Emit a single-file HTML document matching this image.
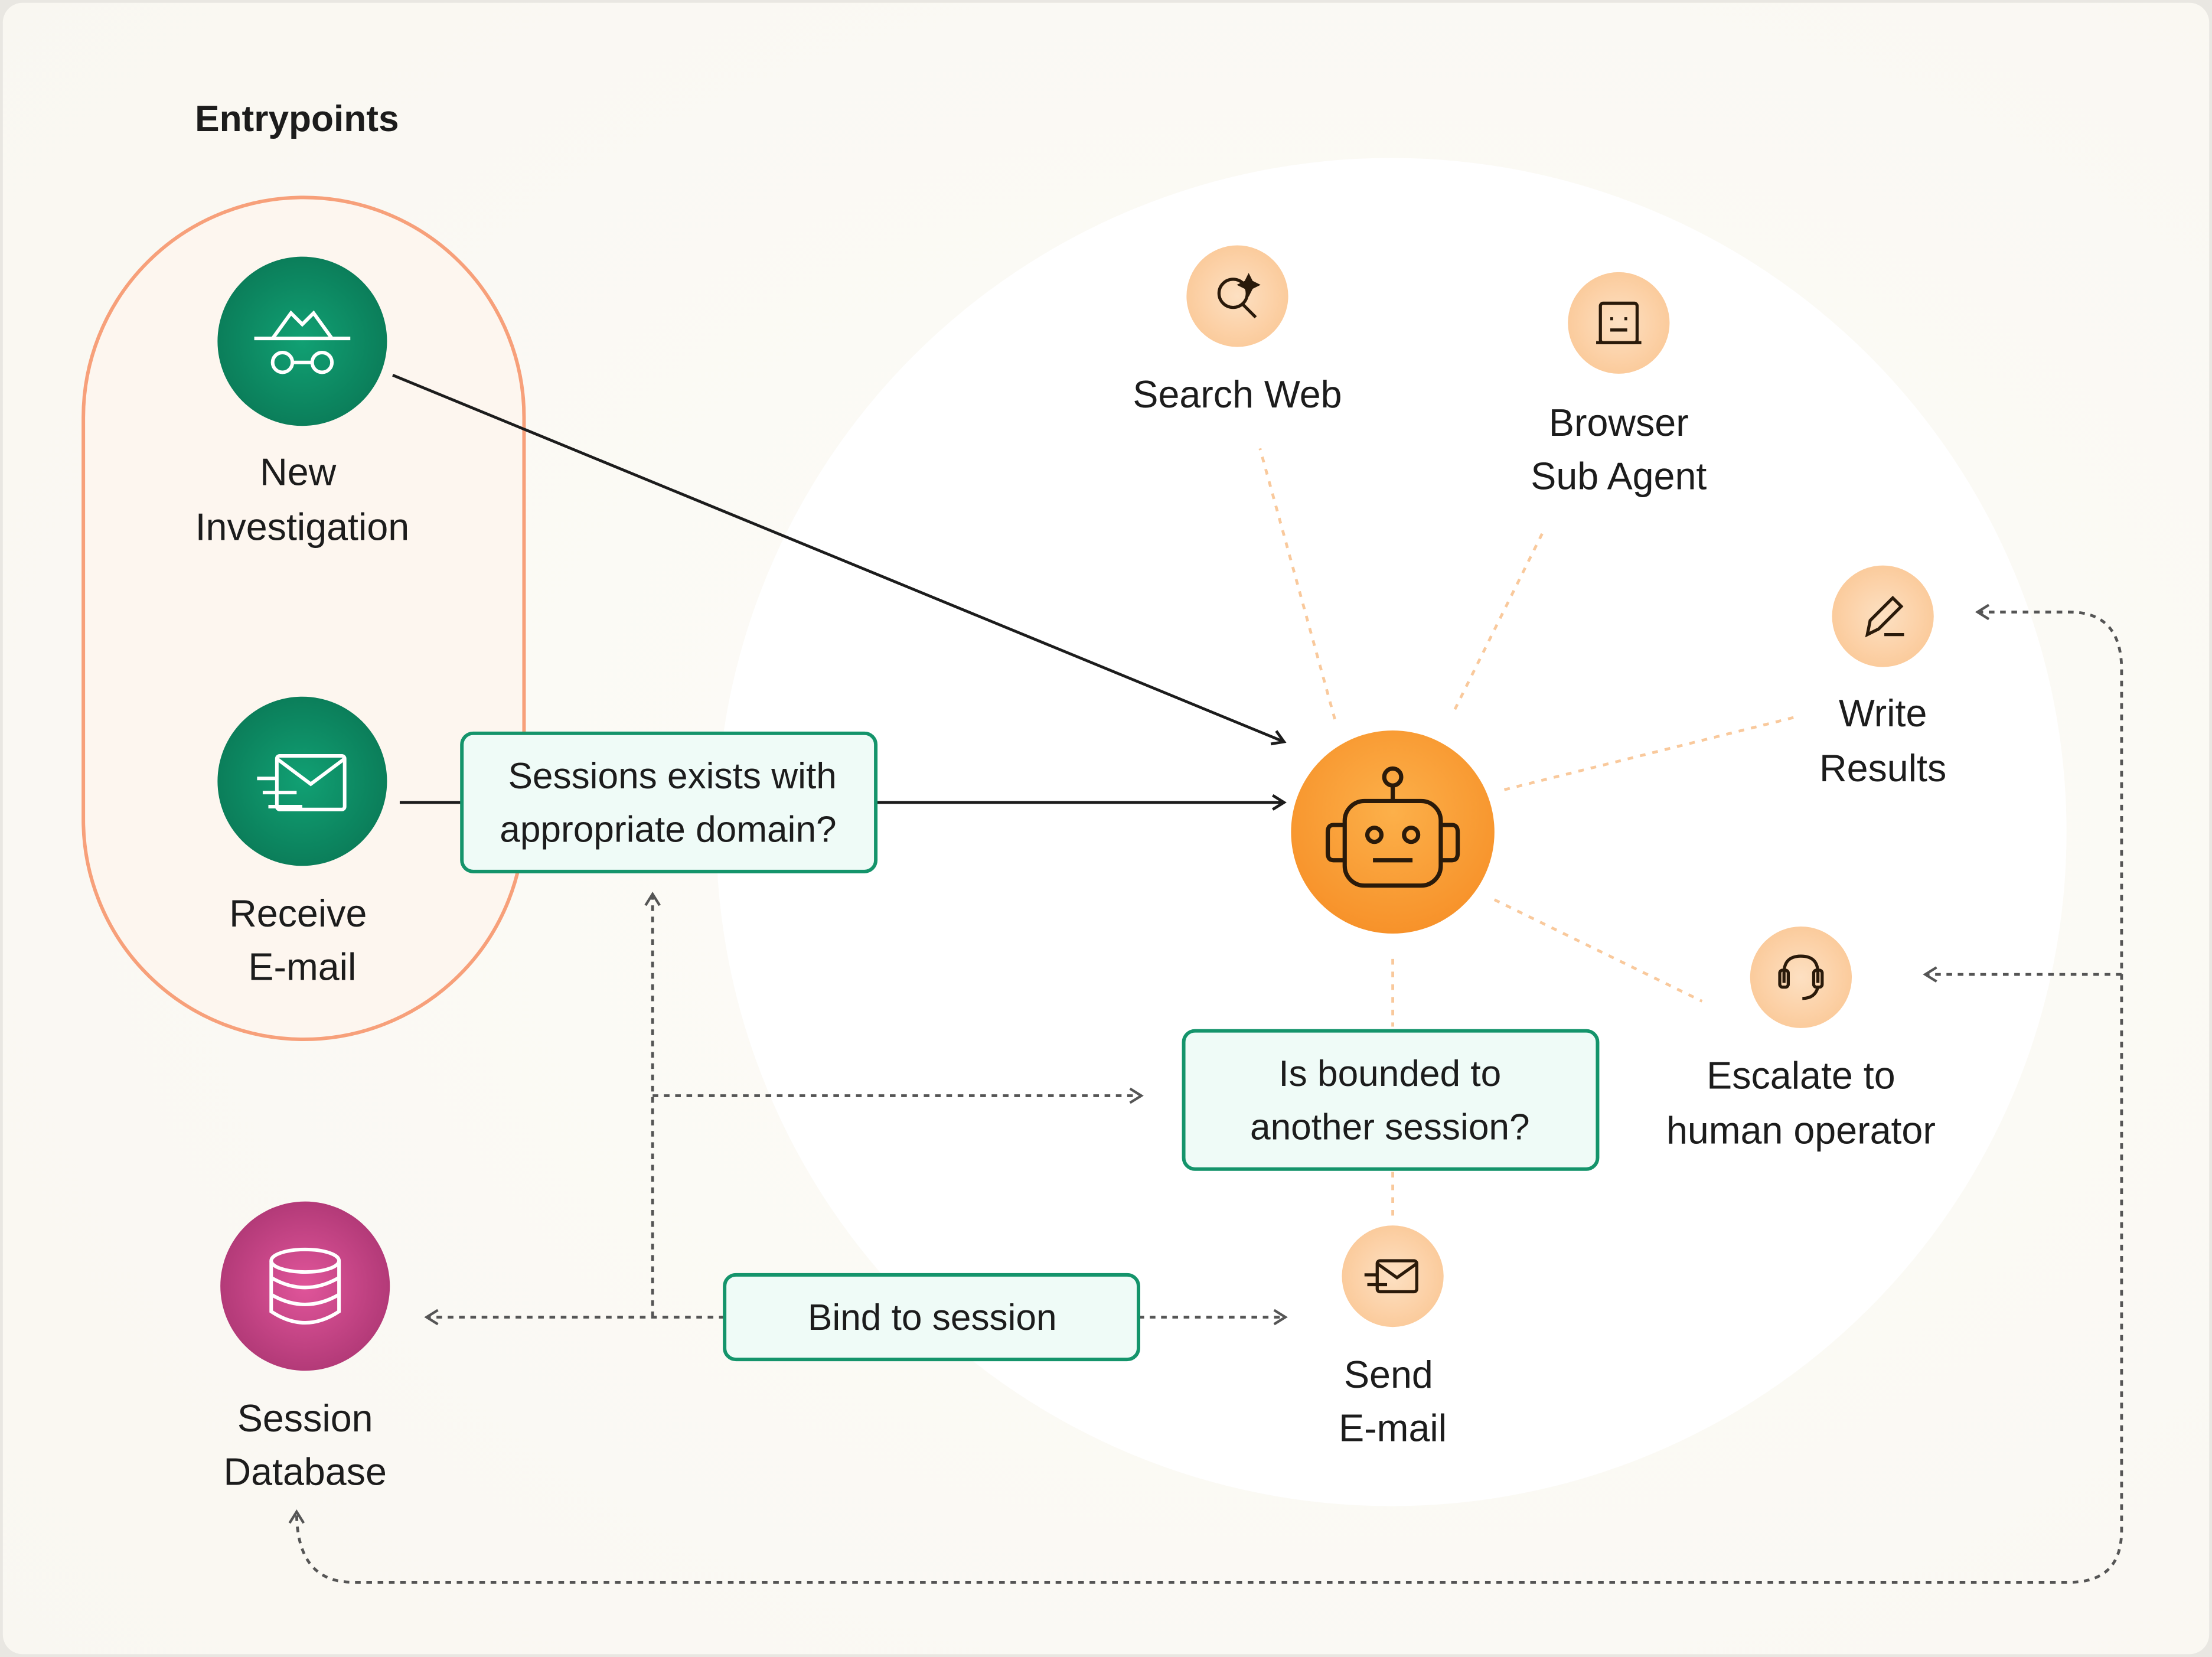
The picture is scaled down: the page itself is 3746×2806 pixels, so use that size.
<!DOCTYPE html>
<html><head><meta charset="utf-8"><style>
html,body{margin:0;padding:0;background:#fff;}
svg{display:block;}
text{font-family:"Liberation Sans",sans-serif;fill:#1c1c1c;}
</style></head><body>
<svg width="3746" height="2806" viewBox="0 0 1566 1175" preserveAspectRatio="none" xmlns="http://www.w3.org/2000/svg">
<defs>
<radialGradient id="bg" cx="0.6" cy="0.5" r="0.8"><stop offset="0" stop-color="#fdfcf8"/><stop offset="1" stop-color="#f9f7f1"/></radialGradient>
<radialGradient id="gr" cx="0.5" cy="0.5" r="0.5"><stop offset="0" stop-color="#11a073"/><stop offset="1" stop-color="#0b7e5a"/></radialGradient>
<radialGradient id="pk" cx="0.5" cy="0.5" r="0.5"><stop offset="0" stop-color="#e0559a"/><stop offset="1" stop-color="#b33a78"/></radialGradient>
<radialGradient id="or" cx="0.5" cy="0.4" r="0.6"><stop offset="0" stop-color="#fcb04a"/><stop offset="1" stop-color="#f7922a"/></radialGradient>
<radialGradient id="pe" cx="0.5" cy="0.5" r="0.5"><stop offset="0" stop-color="#fde0c2"/><stop offset="1" stop-color="#fbcb9c"/></radialGradient>
<marker id="ab" markerWidth="12" markerHeight="12" refX="10" refY="6" orient="auto" markerUnits="userSpaceOnUse"><path d="M2,1 L10,6 L2,11" fill="none" stroke="#1c1c1c" stroke-width="2"/></marker>
<marker id="ag" markerWidth="12" markerHeight="12" refX="10" refY="6" orient="auto" markerUnits="userSpaceOnUse"><path d="M2,1 L10,6 L2,11" fill="none" stroke="#555" stroke-width="1.8"/></marker>
<marker id="ags" markerWidth="12" markerHeight="12" refX="10" refY="6" orient="auto-start-reverse" markerUnits="userSpaceOnUse"><path d="M2,1 L10,6 L2,11" fill="none" stroke="#555" stroke-width="1.8"/></marker>
</defs>
<rect x="0" y="0" width="1566" height="1175" fill="#e9e7e2"/>
<rect x="2" y="2" width="1562" height="1171" rx="14" fill="url(#bg)"/>
<circle cx="985" cy="590" r="478" fill="#ffffff"/>
<text x="138" y="93" font-size="26" font-weight="bold">Entrypoints</text>
<rect x="59" y="140" width="312" height="597" rx="156" fill="#fdf6ef" stroke="#f7a07a" stroke-width="2.5"/>

<g stroke="#f9c99c" stroke-width="2" stroke-dasharray="4,5" fill="none">
<line x1="945" y1="510" x2="892" y2="318"/>
<line x1="1030" y1="503" x2="1092" y2="378"/>
<line x1="1065" y1="560" x2="1273" y2="508"/>
<line x1="1058" y1="638" x2="1205" y2="710"/>
<line x1="986" y1="680" x2="986" y2="728"/>
<line x1="986" y1="831" x2="986" y2="866"/>
</g>

<g stroke="#1c1c1c" stroke-width="2" fill="none">
<line x1="278" y1="266" x2="909" y2="526" marker-end="url(#ab)"/>
<line x1="283" y1="569" x2="327" y2="569"/>
<line x1="620" y1="569" x2="909" y2="569" marker-end="url(#ab)"/>
</g>

<g stroke="#555" stroke-width="2" stroke-dasharray="4,4" fill="none">
<line x1="462" y1="934" x2="462" y2="634" marker-end="url(#ag)"/>
<line x1="462" y1="777" x2="808" y2="777" marker-end="url(#ag)"/>
<line x1="513" y1="934" x2="302" y2="934" marker-end="url(#ag)"/>
<line x1="806" y1="934" x2="910" y2="934" marker-end="url(#ag)"/>
<path d="M1400,434 L1465,434 Q1502,434 1502,475 L1502,1085 Q1502,1122 1465,1122 L250,1122 Q210,1122 210,1072" marker-start="url(#ags)" marker-end="url(#ag)"/>
<line x1="1502" y1="691" x2="1363" y2="691" marker-end="url(#ag)"/>
</g>

<rect x="327" y="520" width="293" height="98" rx="8" fill="#effbf7" stroke="#14946b" stroke-width="2.5"/>
<text x="476" y="559" font-size="26" text-anchor="middle">Sessions exists with</text>
<text x="473" y="597" font-size="26" text-anchor="middle">appropriate domain?</text>
<rect x="838" y="731" width="293" height="98" rx="8" fill="#effbf7" stroke="#14946b" stroke-width="2.5"/>
<text x="984" y="770" font-size="26" text-anchor="middle">Is bounded to</text>
<text x="984" y="808" font-size="26" text-anchor="middle">another session?</text>
<rect x="513" y="904" width="293" height="60" rx="8" fill="#effbf7" stroke="#14946b" stroke-width="2.5"/>
<text x="660" y="943" font-size="26" text-anchor="middle">Bind to session</text>

<circle cx="214" cy="242" r="60" fill="url(#gr)"/>
<g stroke="#fff" stroke-width="2.5" fill="none">
<line x1="180" y1="240" x2="248" y2="240"/>
<path d="M193,240 L206,222 L214,230 L222,222 L235,240"/>
<circle cx="200" cy="257" r="7"/><circle cx="228" cy="257" r="7"/><line x1="207" y1="257" x2="221" y2="257"/>
</g>
<text x="211" y="344" font-size="27" text-anchor="middle">New</text>
<text x="214" y="383" font-size="27" text-anchor="middle">Investigation</text>

<circle cx="214" cy="554" r="60" fill="url(#gr)"/>
<g stroke="#fff" stroke-width="2.5" fill="none">
<rect x="196" y="536" width="48" height="38" rx="2"/>
<path d="M196,538 L220,556 L244,538"/>
<line x1="182" y1="552" x2="196" y2="552"/><line x1="186" y1="562" x2="210" y2="562"/><line x1="190" y1="572" x2="214" y2="572"/>
</g>
<text x="211" y="657" font-size="27" text-anchor="middle">Receive</text>
<text x="214" y="695" font-size="27" text-anchor="middle">E-mail</text>

<circle cx="216" cy="912" r="60" fill="url(#pk)"/>
<g stroke="#fff" stroke-width="2.5" fill="none">
<ellipse cx="216" cy="894" rx="24" ry="8"/>
<path d="M192,894 L192,930 Q216,946 240,930 L240,894"/>
<path d="M192,906 Q216,920 240,906"/><path d="M192,918 Q216,932 240,918"/>
</g>
<text x="216" y="1015" font-size="27" text-anchor="middle">Session</text>
<text x="216" y="1053" font-size="27" text-anchor="middle">Database</text>

<circle cx="986" cy="590" r="72" fill="url(#or)"/>
<g stroke="#2a1a0a" stroke-width="3" fill="none">
<rect x="952" y="568" width="68" height="60" rx="14"/>
<line x1="986" y1="568" x2="986" y2="557"/><circle cx="986" cy="551" r="6"/>
<path d="M952,585 L944,585 Q940,585 940,590 L940,605 Q940,610 944,610 L952,610"/>
<path d="M1020,585 L1028,585 Q1032,585 1032,590 L1032,605 Q1032,610 1028,610 L1020,610"/>
<circle cx="973" cy="592" r="5"/><circle cx="999" cy="592" r="5"/>
<line x1="972" y1="610" x2="1000" y2="610"/>
</g>

<g fill="url(#pe)">
<circle cx="876" cy="210" r="36"/><circle cx="1146" cy="229" r="36"/><circle cx="1333" cy="437" r="36"/><circle cx="1275" cy="693" r="36"/><circle cx="986" cy="905" r="36"/>
</g>
<g stroke="#2a1a0a" stroke-width="2.2" fill="none">
<circle cx="873" cy="208" r="10"/><line x1="880" y1="216" x2="889" y2="225"/>
<path d="M884,196 l2,4 4,2 -4,2 -2,4 -2,-4 -4,-2 4,-2z" fill="#2a1a0a"/>
<rect x="1133" y="215" width="26" height="28" rx="2"/><line x1="1130" y1="243" x2="1162" y2="243"/><line x1="1140" y1="226" x2="1142" y2="226"/><line x1="1150" y1="226" x2="1152" y2="226"/><line x1="1140" y1="234" x2="1152" y2="234"/>
<path d="M1322,450 L1324,440 L1340,424 L1346,430 L1330,446 Z"/><line x1="1334" y1="450" x2="1348" y2="450"/>
<path d="M1263,697 L1263,690 Q1263,678 1275,678 Q1287,678 1287,690 L1287,697"/><rect x="1260" y="688" width="6" height="12" rx="2"/><rect x="1284" y="688" width="6" height="12" rx="2"/><path d="M1287,700 Q1285,708 1276,708"/>
<rect x="975" y="894" width="28" height="22" rx="2"/><path d="M975,896 L989,906 L1003,896"/><line x1="966" y1="904" x2="975" y2="904"/><line x1="968" y1="911" x2="982" y2="911"/>
</g>
<text x="876" y="289" font-size="27" text-anchor="middle">Search Web</text>
<text x="1146" y="309" font-size="27" text-anchor="middle">Browser</text>
<text x="1146" y="347" font-size="27" text-anchor="middle">Sub Agent</text>
<text x="1333" y="515" font-size="27" text-anchor="middle">Write</text>
<text x="1333" y="554" font-size="27" text-anchor="middle">Results</text>
<text x="1275" y="772" font-size="27" text-anchor="middle">Escalate to</text>
<text x="1275" y="811" font-size="27" text-anchor="middle">human operator</text>
<text x="983" y="984" font-size="27" text-anchor="middle">Send</text>
<text x="986" y="1022" font-size="27" text-anchor="middle">E-mail</text>
</svg>
</body></html>
